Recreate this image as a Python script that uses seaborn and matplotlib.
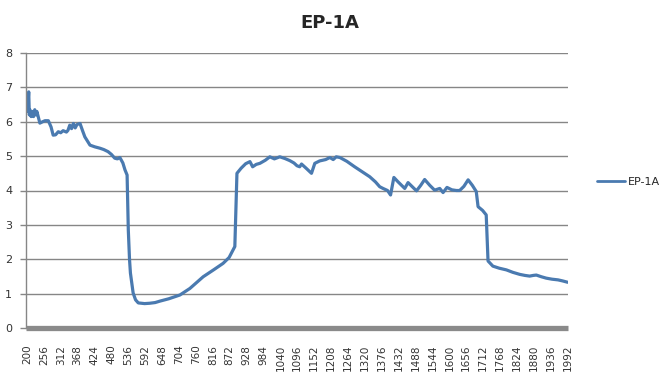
import numpy as np
import pandas as pd
import seaborn as sns
import matplotlib.pyplot as plt

wellenlaenge = [200, 202, 204, 206, 208, 210, 214, 218, 222, 226, 230, 233,
                243, 252, 260, 271, 280, 287, 295, 304, 312, 320, 331, 336,
                342, 348, 354, 360, 366, 376, 384, 392, 409, 425, 442, 455,
                469, 480, 491, 500, 508, 518, 525, 532, 534, 536, 540, 543,
                552, 560, 569, 590, 607, 625, 640, 670, 707, 740, 784, 820,
                850, 870, 889, 896, 910, 925, 939, 948, 960, 972, 990, 1005,
                1020, 1038, 1055, 1071, 1085, 1095, 1104, 1110, 1125, 1143,
                1154, 1170, 1190, 1204, 1215, 1225, 1237, 1260, 1286, 1310,
                1336, 1355, 1369, 1380, 1395, 1405, 1416, 1430, 1452, 1463,
                1476, 1491, 1505, 1518, 1535, 1551, 1568, 1579, 1592, 1608,
                1623, 1634, 1648, 1662, 1676, 1689, 1695, 1710, 1722, 1728,
                1744, 1765, 1789, 1810, 1833, 1850, 1866, 1878, 1888, 1905,
                1921, 1940, 1960, 1975, 1992]
werte = [6.45, 6.3, 6.6, 6.87, 6.2, 6.35, 6.15, 6.3, 6.15, 6.35, 6.2, 6.3,
         5.96, 6.0, 6.03, 6.03, 5.85, 5.61, 5.62, 5.71, 5.68, 5.74, 5.7, 5.75,
         5.9, 5.8, 5.95, 5.82, 5.92, 5.95, 5.75, 5.56, 5.32, 5.27, 5.23, 5.19,
         5.13, 5.05, 4.94, 4.92, 4.96, 4.8, 4.6, 4.45, 3.7, 2.85, 2.0, 1.6,
         1.02, 0.82, 0.73, 0.71, 0.72, 0.74, 0.78, 0.85, 0.96, 1.15, 1.49, 1.7,
         1.88, 2.05, 2.37, 4.5, 4.65, 4.78, 4.84, 4.69, 4.76, 4.79, 4.88, 4.98,
         4.92, 4.98, 4.93, 4.87, 4.8, 4.72, 4.69, 4.77, 4.65, 4.5,
         4.79, 4.86, 4.9, 4.96, 4.9, 4.98, 4.96, 4.85, 4.69, 4.55,
         4.4, 4.25, 4.11, 4.06, 4.0, 3.87, 4.38, 4.25, 4.06, 4.23,
         4.12, 3.99, 4.15, 4.32, 4.15, 4.01, 4.06, 3.94, 4.09, 4.02,
         4.0, 4.0, 4.12, 4.31, 4.15, 3.97, 3.53, 3.42, 3.29, 1.95,
         1.8, 1.74, 1.69, 1.62, 1.56, 1.53, 1.51, 1.53, 1.54, 1.49,
         1.45, 1.42, 1.4, 1.37, 1.33]
x_ticks = list(range(200, 1993, 56))
y_ticks = list(range(0, 9))
serie = "EP-1A"

df = pd.DataFrame({"nm": wellenlaenge, "wert": werte})

sns.set_theme(style="white")
plt.rcParams['font.family'] = ['DejaVu Sans']

fig = plt.figure(figsize=(6.62, 3.80), dpi=100)
ax = fig.add_axes([26 / 662, 1 - 328 / 380, 542 / 662, 275 / 380])

sns.lineplot(data=df, x="nm", y="wert", ax=ax, color="#4A7AB0",
             linewidth=2.3, label=serie, sort=False)

ax.set_xlim(197, 1993)
ax.set_ylim(0, 8)
ax.set_xticks(x_ticks)
ax.set_xticklabels([str(t) for t in x_ticks], rotation=90, fontsize=7.5,
                   color="#333333")
ax.set_yticks(y_ticks)
ax.set_yticklabels([str(t) for t in y_ticks], fontsize=8, color="#333333")
ax.set_xlabel("")
ax.set_ylabel("")

ax.yaxis.grid(True, color="#868686", linewidth=1.0)
ax.set_axisbelow(True)
for s in ["top", "right"]:
    ax.spines[s].set_visible(False)
ax.spines["left"].set_color("#868686")
ax.spines["left"].set_linewidth(1.0)
ax.spines["bottom"].set_color("#8a8a8a")
ax.spines["bottom"].set_linewidth(3.8)
ax.spines["bottom"].set_capstyle("butt")
ax.tick_params(axis="y", left=True, length=4, width=1, color="#868686", pad=6)
ax.tick_params(axis="x", bottom=False, pad=6)

ax.set_title(serie, fontsize=13, fontweight="bold", pad=18, x=0.56)

leg = ax.legend(loc="center left", bbox_to_anchor=(587 / 662, 1 - 182 / 380),
                bbox_transform=fig.transFigure, frameon=False, fontsize=8,
                handlelength=2.5, handletextpad=0.3)
for line in leg.get_lines():
    line.set_linewidth(2.0)

fig.savefig("out.png", dpi=100)
